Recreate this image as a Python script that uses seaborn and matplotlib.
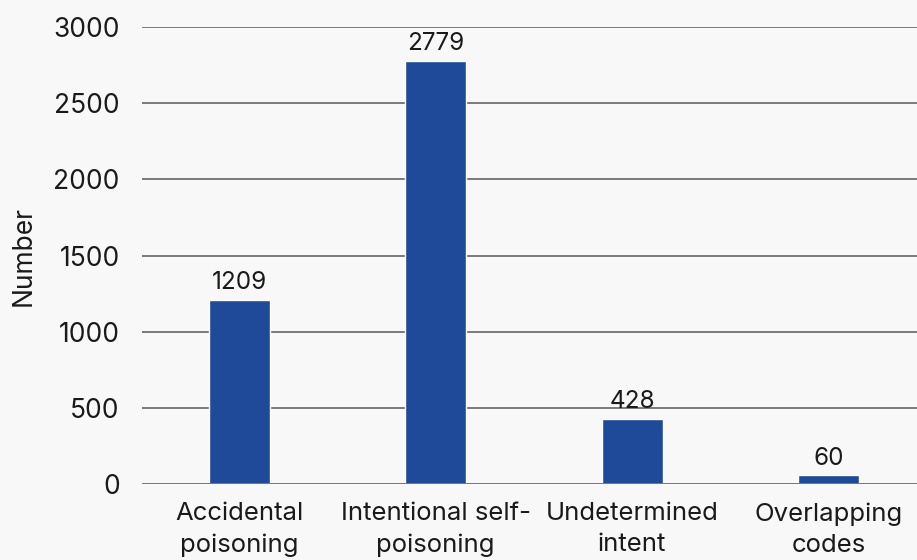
import matplotlib.pyplot as plt
import pandas as pd
import seaborn as sns

CATEGORIES = ["Accidental\npoisoning", "Intentional self-\npoisoning", "Undetermined\nintent", "Overlapping\ncodes"]
VALUES = [1209, 2779, 428, 60]
Y_TICKS = [0, 500, 1000, 1500, 2000, 2500, 3000]

BAR_COLOR = "#1F4A99"
BG_COLOR = "#F8F8F8"
GRID_COLOR = "#7A7A7A"
TEXT_COLOR = "#1A1A1A"


def main() -> None:
    sns.set_theme(style="white")
    plt.rcParams["font.family"] = ["Inter", "DejaVu Sans"]

    df = pd.DataFrame({"category": CATEGORIES, "value": VALUES})

    fig = plt.figure(figsize=(9.17, 5.6), dpi=100, facecolor=BG_COLOR)
    ax = fig.add_axes([0.1549, 0.1357, 0.8451, 0.8161])
    ax.set_facecolor(BG_COLOR)

    sns.barplot(data=df, x="category", y="value", color=BAR_COLOR, width=0.31,
                saturation=1, ax=ax, zorder=3)

    for i, v in enumerate(VALUES):
        ax.text(i, v + 35, f"{v}", ha="center", va="bottom", fontsize=17.5, color=TEXT_COLOR)

    ax.set_ylim(0, 3000)
    ax.set_xlim(-0.494, 3.45)
    ax.set_yticks(Y_TICKS)
    ax.yaxis.grid(True, color=GRID_COLOR, linewidth=1.4, zorder=0)
    ax.set_axisbelow(True)
    for spine in ax.spines.values():
        spine.set_visible(False)
    ax.axhline(0, color=GRID_COLOR, linewidth=1.4, zorder=4)

    ax.tick_params(axis="both", length=0, labelcolor=TEXT_COLOR)
    ax.tick_params(axis="y", pad=16, labelsize=19)
    ax.tick_params(axis="x", pad=13, labelsize=18.5)
    for lbl in ax.get_xticklabels():
        lbl.set_linespacing(1.45)
    ax.set_xlabel("")
    ax.set_ylabel("Number", fontsize=19, color=TEXT_COLOR, labelpad=12)

    fig.savefig("out.png", dpi=100, facecolor=BG_COLOR)


if __name__ == "__main__":
    main()
